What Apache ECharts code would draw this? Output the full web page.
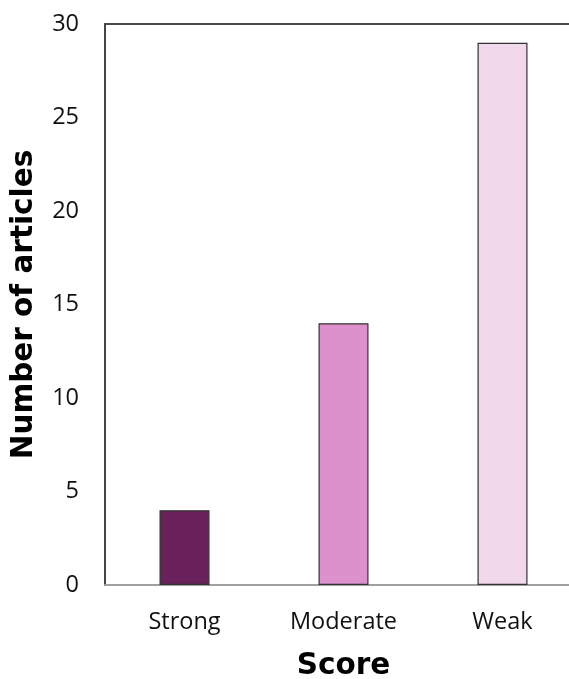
<!DOCTYPE html>
<html>
<head>
<meta charset="utf-8">
<script src="https://cdn.jsdelivr.net/npm/echarts@6/dist/echarts.min.js"></script>
<style>
  html, body { margin: 0; padding: 0; background: #fff; }
  #chart { width: 569px; height: 679px; }
</style>
</head>
<body>
<div id="chart"></div>
<script>
// Article counts by evidence score
const categories = ['Strong', 'Moderate', 'Weak'];
const articleCounts = [4, 14, 29];
const barColors = ['#68215a', '#dd91cc', '#f1d9eb'];
const yTicks = [0, 5, 10, 15, 20, 25, 30];

const LABEL_FONT = '"Open Sans", "Noto Sans", sans-serif';
const TITLE_FONT = '"DejaVu Sans", "Open Sans", sans-serif';

const chart = echarts.init(document.getElementById('chart'), null, { renderer: 'canvas' });

chart.setOption({
  animation: false,
  backgroundColor: '#ffffff',
  grid: {
    left: 105,
    top: 24,
    width: 477,
    bottom: 94,
    outerBoundsMode: 'none',
    containLabel: false,
    show: true,
    borderColor: '#111',
    borderWidth: 1.5,
    backgroundColor: 'transparent'
  },
  xAxis: {
    type: 'category',
    data: categories,
    name: 'Score',
    nameLocation: 'middle',
    nameGap: 66,
    nameTextStyle: { fontFamily: TITLE_FONT, fontSize: 29.5, fontWeight: 'bold', color: '#000' },
    axisLine: { show: true, lineStyle: { color: '#a0a0a0', width: 2 } },
    axisTick: { show: false },
    axisLabel: { fontFamily: LABEL_FONT, fontSize: 23.5, color: '#111', margin: 25 }
  },
  yAxis: {
    type: 'value',
    min: yTicks[0],
    max: yTicks[yTicks.length - 1],
    interval: 5,
    name: 'Number of articles',
    nameLocation: 'middle',
    nameGap: 66,
    nameTextStyle: { fontFamily: TITLE_FONT, fontSize: 29.5, fontWeight: 'bold', color: '#000' },
    axisLine: { show: true, lineStyle: { color: '#444', width: 2 } },
    axisTick: { show: false },
    splitLine: { show: false },
    axisLabel: { fontFamily: LABEL_FONT, fontSize: 23.5, color: '#111', margin: 26 }
  },
  series: [{
    type: 'bar',
    data: articleCounts.map((v, i) => ({
      value: v,
      itemStyle: { color: barColors[i] }
    })),
    barWidth: 50,
    itemStyle: { borderColor: '#333', borderWidth: 1.2 }
  }]
});
</script>
</body>
</html>
